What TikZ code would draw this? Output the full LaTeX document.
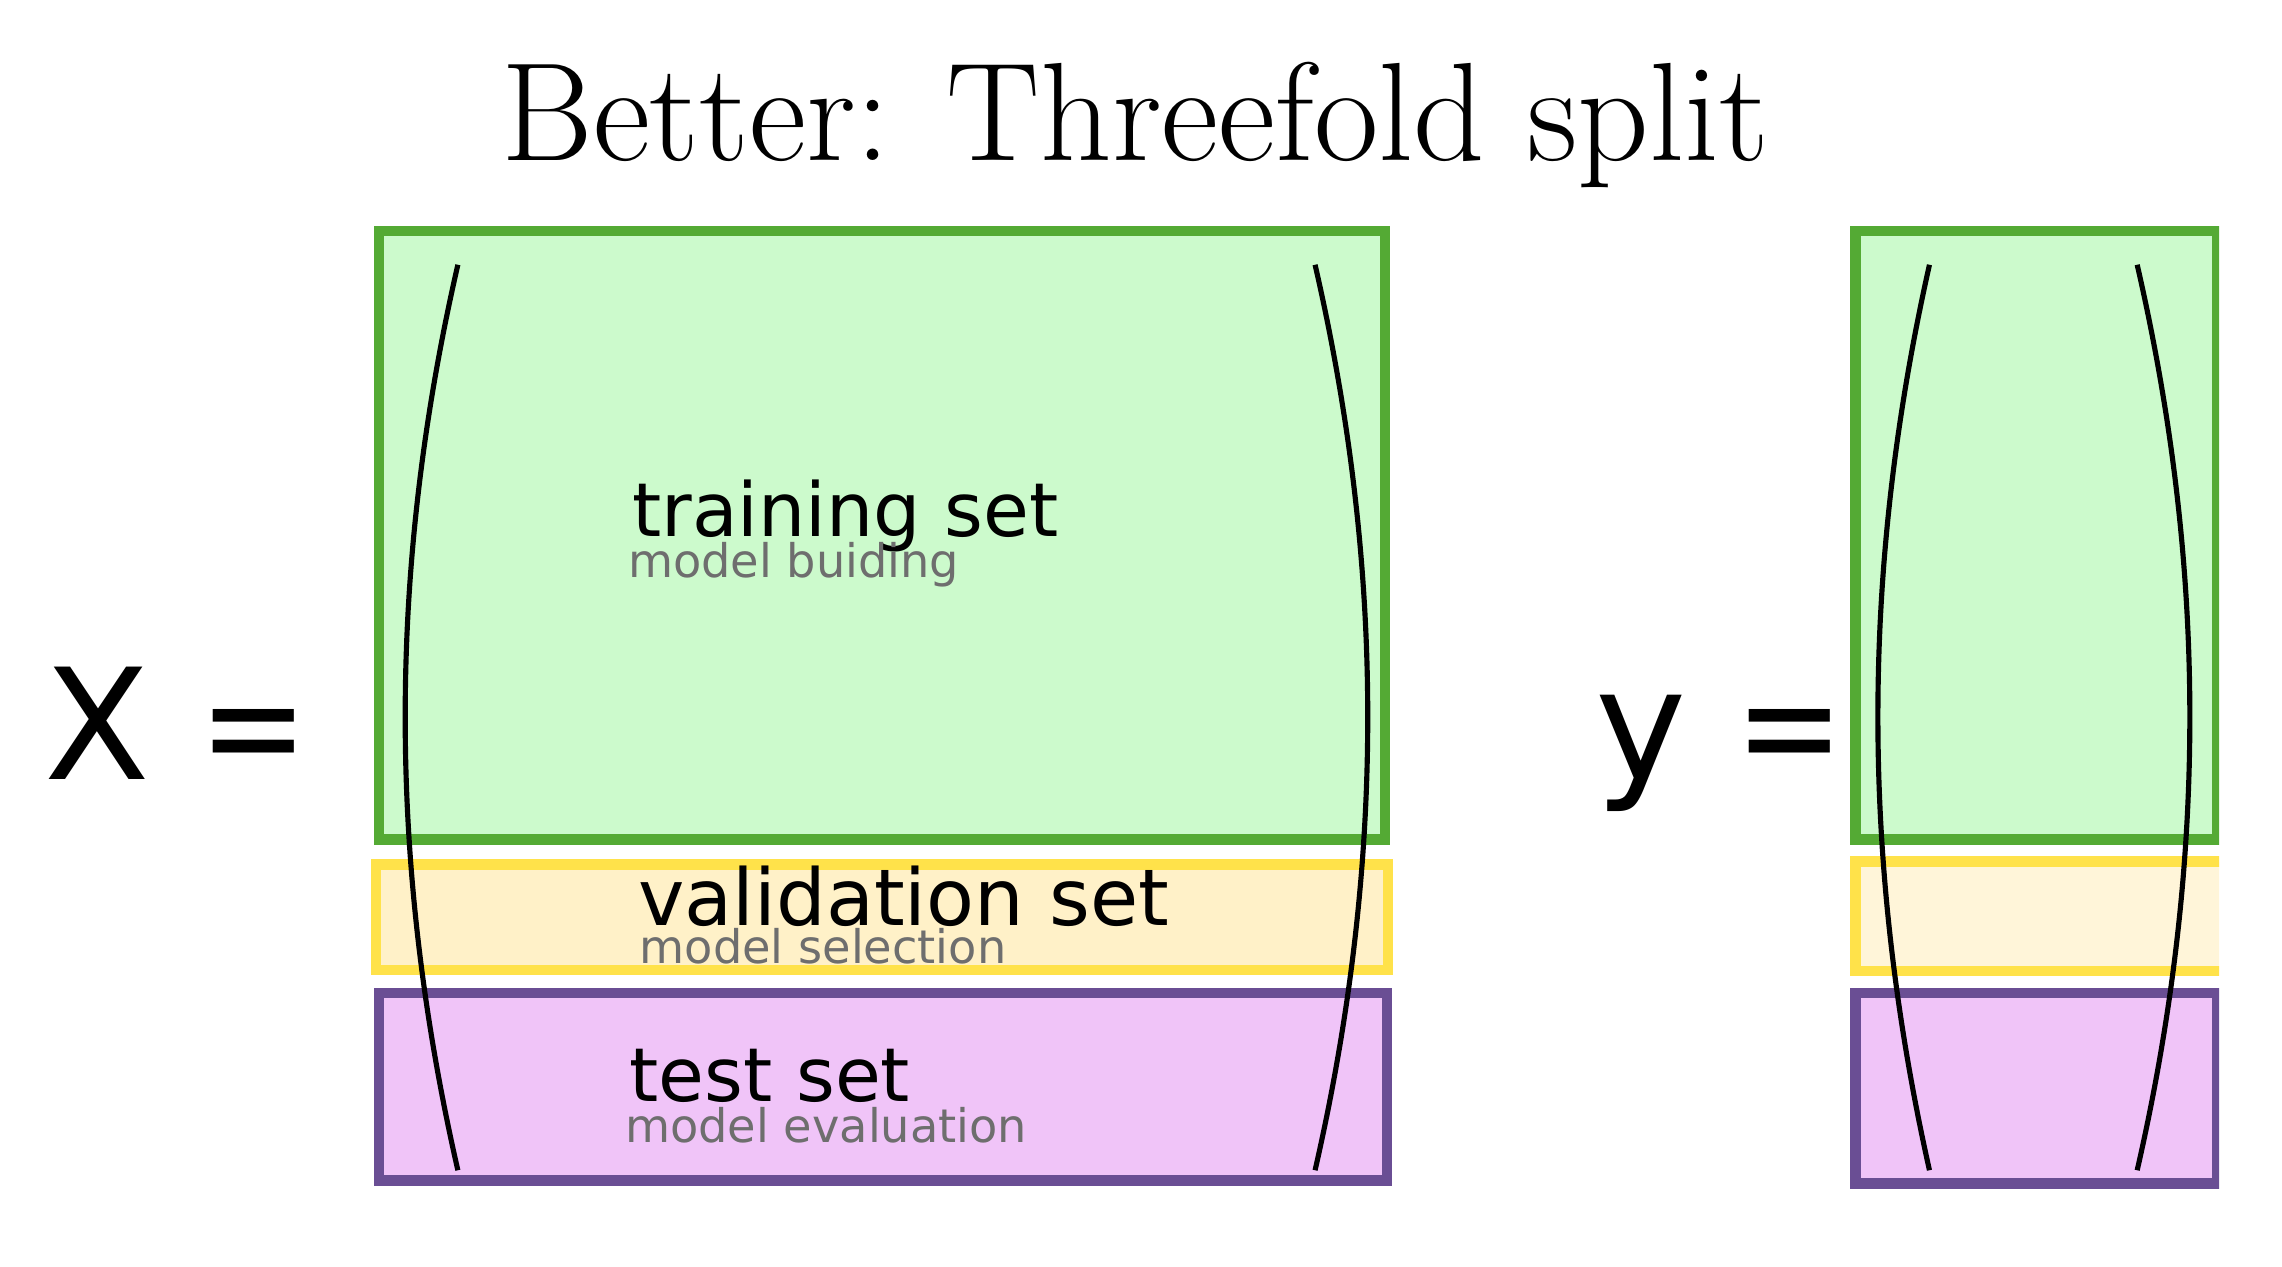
\documentclass[tikz,border=0pt]{standalone}
\usepackage{fontspec}
\usepackage{xcolor}
\usepackage{tikz}
\usetikzlibrary{positioning,calc}
\newfontfamily\labelfont{DejaVu Sans}
\definecolor{TrainGreen}{RGB}{84,170,52}
\definecolor{TrainFill}{RGB}{204,250,204}
\definecolor{ValYellow}{RGB}{255,226,74}
\definecolor{ValFill}{RGB}{255,241,200}
\definecolor{TestPurple}{RGB}{106,78,148}
\definecolor{TestFill}{RGB}{240,196,248}
\definecolor{SubGray}{RGB}{110,110,110}
\tikzset{
    setbox/.style={rectangle, inner sep=0pt, line width=4pt},
    trainbox/.style={setbox, draw=TrainGreen, fill=TrainFill},
    valbox/.style={setbox, draw=ValYellow, fill=ValFill},
    testbox/.style={setbox, draw=TestPurple, fill=TestFill},
    paren/.style={draw=black, line width=2pt},
    setname/.style={anchor=base west, inner sep=0pt, font=\labelfont\fontsize{29}{30}\selectfont},
    setuse/.style={anchor=base west, inner sep=0pt, text=SubGray, font=\labelfont\fontsize{18}{19}\selectfont},
    matname/.style={anchor=base west, inner sep=0pt, font=\labelfont\fontsize{60}{62}\selectfont}
}
\newcommand{\eqsign}{\scalebox{0.84}[1]{=}}
\begin{document}
\begin{tikzpicture}[x=0.02cm, y=-0.02cm]
    \useasboundingbox (0,0) rectangle (1560,865.5);

    % --- TITLE ---
    \node[anchor=base, inner sep=0pt, font=\fontsize{54.5}{56}\selectfont] (title) at (776,110) {Better: Threefold split};

    % --- MATRIX X ---
    \node[matname] (xname) at (30,533) {X \eqsign};
    \node[trainbox, minimum width=13.76cm, minimum height=8.32cm] (xtrain) at (603,366) {};
    \node[valbox, minimum width=13.84cm, minimum height=1.44cm] (xval) at (603,627) {};
    \node[testbox, minimum width=13.78cm, minimum height=2.56cm] (xtest) at (603.5,743) {};

    \node[setname] (trainname) at (432,367) {training set};
    \node[setuse] (trainuse) at (429,395) {model buiding};
    \node[setname, font=\labelfont\fontsize{30.5}{32}\selectfont] (valname) at (436,633) {validation set};
    \node[setuse] (valuse) at (437,659) {model selection};
    \node[setname] (testname) at (430,753) {test set};
    \node[setuse] (testuse) at (427,781) {model evaluation};

    \draw[paren] (313,181) .. controls (265,390) and (265,590) .. (313,800);
    \draw[paren] (899,181) .. controls (947,390) and (947,590) .. (899,800);

    % --- VECTOR y (cut at the right edge) ---
    \node[matname] (yname) at (1090,533) {y \eqsign};
    \begin{scope}
        \clip (1255,140) rectangle (1517,830);
        \node[trainbox, minimum width=4.94cm, minimum height=8.32cm] (ytrain) at (1392,366) {};
        \node[valbox, minimum width=5.1cm, minimum height=1.5cm, fill=ValFill!70!white] (yval) at (1396,626.5) {};
        \node[testbox, minimum width=4.94cm, minimum height=2.6cm] (ytest) at (1392,744) {};
    \end{scope}

    \draw[paren] (1319,181) .. controls (1272,390) and (1272,590) .. (1319,800);
    \draw[paren] (1461,181) .. controls (1509,390) and (1509,590) .. (1461,800);

\end{tikzpicture}
\end{document}
